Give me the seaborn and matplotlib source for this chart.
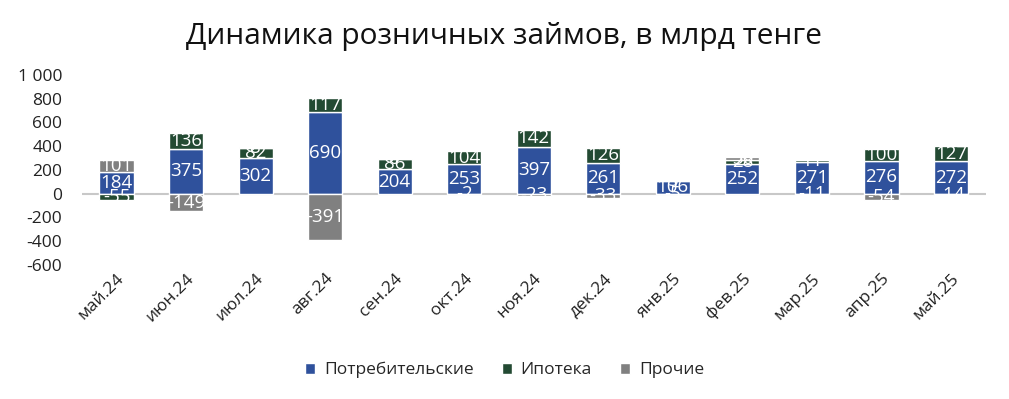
import matplotlib
matplotlib.use("Agg")
import matplotlib.pyplot as plt
import seaborn as sns
import numpy as np
import pandas as pd
from matplotlib.ticker import FuncFormatter, FixedLocator
from matplotlib.patches import Patch

months = ["май.24", "июн.24", "июл.24", "авг.24", "сен.24", "окт.24", "ноя.24",
          "дек.24", "янв.25", "фев.25", "мар.25", "апр.25", "май.25"]
consumer = [184, 375, 302, 690, 204, 253, 397, 261, 106, 252, 271, 276, 272]
mortgage = [-55, 136, 82, 117, 86, 104, 142, 126, 5, 28, 11, 100, 127]
other = [101, -149, 8, -391, 6, -2, -23, -33, -5, 30, -11, -54, -14]
series_names = ["Потребительские", "Ипотека", "Прочие"]
colors = ["#2F519C", "#234A33", "#808080"]
yticks = [-600, -400, -200, 0, 200, 400, 600, 800, 1000]
title = "Динамика розничных займов, в млрд тенге"

sns.set_theme(style="white")
plt.rcParams["font.family"] = ["Open Sans", "DejaVu Sans"]

fig = plt.figure(figsize=(10.09, 3.99), dpi=100)
ax = fig.add_axes([0.081, 0.336, 0.896, 0.476])

pos_base = np.zeros(len(months))
neg_base = np.zeros(len(months))
for name, vals, col in zip(series_names, [consumer, mortgage, other], colors):
    v = np.array(vals, dtype=float)
    bottom = np.where(v >= 0, pos_base, neg_base)
    df = pd.DataFrame({"month": months, "value": v})
    sns.barplot(data=df, x="month", y="value", color=col, width=0.49,
                bottom=bottom, ax=ax, saturation=1, errorbar=None)
    for i, val in enumerate(v):
        ax.text(i, bottom[i] + val / 2, f"{int(val)}", ha="center", va="center",
                color="white", fontsize=13.5)
    pos_base = np.where(v >= 0, pos_base + v, pos_base)
    neg_base = np.where(v < 0, neg_base + v, neg_base)

ax.set_ylim(-600, 1000)
ax.set_xlim(-0.5, len(months) - 0.5)
ax.yaxis.set_major_locator(FixedLocator(yticks))
ax.yaxis.set_major_formatter(FuncFormatter(lambda y, p: f"{int(y):,}".replace(",", " ")))
ax.axhline(0, color="#C8C8C8", lw=1.5, zorder=0.5)
for s in ax.spines.values():
    s.set_visible(False)
ax.set_xlabel("")
ax.set_ylabel("")
ax.tick_params(axis="y", labelsize=12.5, colors="#222222", length=0, pad=14)
ax.tick_params(axis="x", labelsize=12.5, colors="#222222", length=0, pad=4)
ax.set_xticks(range(len(months)))
ax.set_xticklabels(months, rotation=45, ha="right", rotation_mode="anchor")

fig.suptitle(title, x=0.5, y=0.945, fontsize=21.5, color="#111111")

handles = [Patch(facecolor=c, label=n) for n, c in zip(series_names, colors)]
fig.legend(handles=handles, loc="center", bbox_to_anchor=(0.5, 0.072), ncol=3,
           frameon=False, fontsize=12.5, handlelength=0.6, handleheight=0.6,
           handletextpad=0.5, columnspacing=1.6)

fig.savefig("out.png", dpi=100)
